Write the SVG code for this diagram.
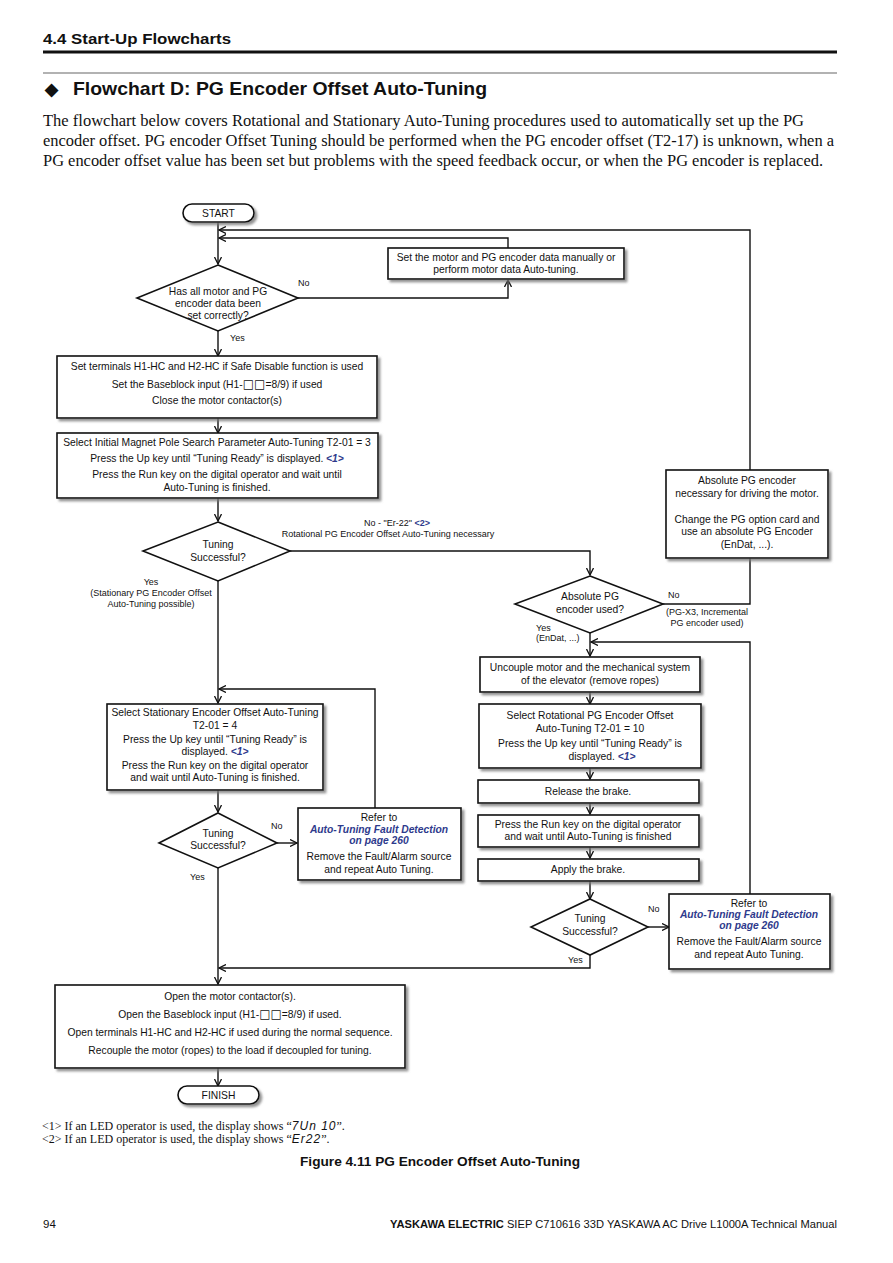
<svg xmlns="http://www.w3.org/2000/svg" width="893" height="1263" viewBox="0 0 893 1263">
<style>
text{font-family:"Liberation Sans",Arial,sans-serif;fill:#111}
.t{font-size:10.3px;text-anchor:middle}
.tl{font-size:10.3px}
.s{font-size:9px}
.bx{fill:#fff;stroke:#111;stroke-width:1.6;filter:url(#sh)}
.dm{fill:#fff;stroke:#111;stroke-width:1.6}
.c{fill:none;stroke:#111;stroke-width:1.4}
.ca{fill:none;stroke:#111;stroke-width:1.4;marker-end:url(#ar)}
.bl{fill:#2e3a8c;font-weight:bold;font-style:italic}
.sq{font-family:"DejaVu Sans",sans-serif;font-size:12px}
.serif{font-family:"Liberation Serif","Times New Roman",serif}
</style>
<defs>
<filter id="sh" x="-10%" y="-10%" width="130%" height="140%">
<feDropShadow dx="2.5" dy="2.5" stdDeviation="0.8" flood-color="#777" flood-opacity="0.8"/>
</filter>
<marker id="ar" markerWidth="8" markerHeight="8" refX="7" refY="4" orient="auto" markerUnits="userSpaceOnUse">
<path d="M0,0.5 L7,4 L0,7.5" fill="none" stroke="#111" stroke-width="1.3"/>
</marker>
</defs>
<rect width="893" height="1263" fill="#fff"/>
<g id="header">
<text x="43" y="44" font-size="15" font-weight="bold" textLength="188" lengthAdjust="spacingAndGlyphs">4.4  Start-Up Flowcharts</text>
<rect x="43" y="50.5" width="794" height="3" fill="#111"/>
<rect x="43" y="72.5" width="794" height="1" fill="#666"/>
<text x="45" y="95" font-size="17" font-weight="bold">◆</text>
<text x="73" y="95" font-size="19" font-weight="bold" textLength="414" lengthAdjust="spacingAndGlyphs">Flowchart D: PG Encoder Offset Auto-Tuning</text>
<text class="serif" x="43" y="126" font-size="16" textLength="761" lengthAdjust="spacingAndGlyphs">The flowchart below covers Rotational and Stationary Auto-Tuning procedures used to automatically set up the PG</text>
<text class="serif" x="43" y="146" font-size="16" textLength="791" lengthAdjust="spacingAndGlyphs">encoder offset. PG encoder Offset Tuning should be performed when the PG encoder offset (T2-17) is unknown, when a</text>
<text class="serif" x="43" y="166" font-size="16" textLength="780" lengthAdjust="spacingAndGlyphs">PG encoder offset value has been set but problems with the speed feedback occur, or when the PG encoder is replaced.</text>
</g>
<g id="connectors">
<path class="ca" d="M218,222 V264"/>
<path class="ca" d="M750,470 V230 H219"/>
<path class="ca" d="M508,248 V238 H219"/>
<path class="ca" d="M298,298 H508 V280"/>
<path class="ca" d="M218,331 V356"/>
<path class="ca" d="M218,418 V433"/>
<path class="ca" d="M218,498 V521"/>
<path class="ca" d="M290,551 H590 V575"/>
<path class="ca" d="M218,581 V703"/>
<path class="ca" d="M375,808 V689 H219"/>
<path class="ca" d="M218,790 V812"/>
<path class="ca" d="M277,843 H297"/>
<path class="ca" d="M218,868 V984"/>
<path class="c" d="M663,604 H750 V558"/>
<path class="ca" d="M590,633 V656"/>
<path class="ca" d="M750,894 V642 H591"/>
<path class="ca" d="M590,692 V704"/>
<path class="ca" d="M590,768 V779"/>
<path class="ca" d="M590,803 V814"/>
<path class="ca" d="M590,847 V858"/>
<path class="ca" d="M590,881 V899"/>
<path class="ca" d="M648,927 H669"/>
<path class="ca" d="M590,955 V968 H219"/>
<path class="ca" d="M218,1068 V1086"/>
</g>
<g id="start">
<rect class="bx" x="183" y="204" width="71" height="18" rx="9"/>
<text class="t" x="218.5" y="217">START</text>
</g>
<g id="set-motor-data">
<rect class="bx" x="388" y="248" width="236" height="31"/>
<text class="t" x="506" y="261">Set the motor and PG encoder data manually or</text>
<text class="t" x="506" y="273">perform motor data Auto-tuning.</text>
</g>
<g id="d-data-set">
<polygon class="dm" points="218,265 298,298 218,331 137,298"/>
<text class="t" x="218" y="295">Has all motor and PG</text>
<text class="t" x="218" y="307">encoder  data been</text>
<text class="t" x="218" y="319">set correctly?</text>
<text class="s" x="298" y="286">No</text>
<text class="s" x="230" y="341">Yes</text>
</g>
<g id="set-terminals">
<rect class="bx" x="57" y="356" width="320" height="62"/>
<text class="t" x="217" y="370">Set terminals H1-HC and H2-HC if Safe Disable function is used</text>
<text class="t" x="217" y="388">Set the Baseblock input (H1-<tspan class="sq">□□</tspan>=8/9) if used</text>
<text class="t" x="217" y="404">Close the motor contactor(s)</text>
</g>
<g id="select-initial">
<rect class="bx" x="57" y="433" width="321" height="65"/>
<text class="t" x="217" y="446">Select Initial Magnet Pole Search Parameter Auto-Tuning T2-01 = 3</text>
<text class="t" x="217" y="462">Press the Up key until “Tuning Ready” is displayed. <tspan class="bl">&lt;1&gt;</tspan></text>
<text class="t" x="217" y="478">Press the Run key on the digital operator and wait until</text>
<text class="t" x="217" y="491">Auto-Tuning is finished.</text>
</g>
<g id="d-tuning-1">
<polygon class="dm" points="218,522 290,551 218,581 143,551"/>
<text class="t" x="218" y="548">Tuning</text>
<text class="t" x="218" y="561">Successful?</text>
<text class="t s" x="397" y="526">No - "Er-22" <tspan fill="#2e3a8c" font-weight="bold">&lt;2&gt;</tspan></text>
<text class="t s" x="388" y="537">Rotational PG Encoder Offset Auto-Tuning necessary</text>
<text class="t s" x="151" y="585">Yes</text>
<text class="t s" x="151" y="596">(Stationary PG Encoder Offset</text>
<text class="t s" x="151" y="607">Auto-Tuning possible)</text>
</g>
<g id="absolute-needed">
<rect class="bx" x="666" y="470" width="162" height="88"/>
<text class="t" x="747" y="484">Absolute PG encoder</text>
<text class="t" x="747" y="497">necessary for driving the motor.</text>
<text class="t" x="747" y="523">Change the PG option card and</text>
<text class="t" x="747" y="535">use an absolute PG Encoder</text>
<text class="t" x="747" y="548">(EnDat, ...).</text>
</g>
<g id="d-absolute">
<polygon class="dm" points="590,576 663,604 590,633 515,604"/>
<text class="t" x="590" y="600">Absolute PG</text>
<text class="t" x="590" y="613">encoder used?</text>
<text class="s" x="668" y="598">No</text>
<text class="t s" x="707" y="615">(PG-X3, Incremental</text>
<text class="t s" x="707" y="626">PG encoder used)</text>
<text class="s" x="536" y="631">Yes</text>
<text class="s" x="536" y="641">(EnDat, ...)</text>
</g>
<g id="uncouple">
<rect class="bx" x="480" y="657" width="220" height="35"/>
<text class="t" x="590" y="671">Uncouple motor and the mechanical system</text>
<text class="t" x="590" y="684">of the elevator (remove ropes)</text>
</g>
<g id="select-rotational">
<rect class="bx" x="479" y="704" width="222" height="64"/>
<text class="t" x="590" y="719">Select Rotational PG Encoder Offset</text>
<text class="t" x="590" y="732">Auto-Tuning T2-01 = 10</text>
<text class="t" x="590" y="747">Press the Up key until “Tuning Ready” is</text>
<text class="t" x="602" y="760">displayed. <tspan class="bl">&lt;1&gt;</tspan></text>
</g>
<g id="release-brake">
<rect class="bx" x="478" y="780" width="221" height="23"/>
<text class="t" x="588" y="795">Release the brake.</text>
</g>
<g id="press-run">
<rect class="bx" x="478" y="815" width="221" height="32"/>
<text class="t" x="588" y="828">Press the Run key on the digital operator</text>
<text class="t" x="588" y="840">and wait until Auto-Tuning is finished</text>
</g>
<g id="apply-brake">
<rect class="bx" x="478" y="859" width="221" height="22"/>
<text class="t" x="588" y="873">Apply the brake.</text>
</g>
<g id="d-tuning-r">
<polygon class="dm" points="590,899 648,927 590,955 531,927"/>
<text class="t" x="590" y="922">Tuning</text>
<text class="t" x="590" y="935">Successful?</text>
<text class="s" x="648" y="912">No</text>
<text class="s" x="568" y="963">Yes</text>
</g>
<g id="refer-r">
<rect class="bx" x="669" y="894" width="161" height="75"/>
<text class="t" x="749" y="907">Refer to</text>
<text class="t bl" x="749" y="918">Auto-Tuning Fault Detection</text>
<text class="t bl" x="749" y="929">on page 260</text>
<text class="t" x="749" y="945">Remove the Fault/Alarm source</text>
<text class="t" x="749" y="958">and repeat Auto Tuning.</text>
</g>
<g id="select-stationary">
<rect class="bx" x="107" y="704" width="216" height="86"/>
<text class="t" x="215" y="716">Select Stationary Encoder Offset Auto-Tuning</text>
<text class="t" x="215" y="729">T2-01 = 4</text>
<text class="t" x="215" y="743">Press the Up key until “Tuning Ready” is</text>
<text class="t" x="215" y="755">displayed. <tspan class="bl">&lt;1&gt;</tspan></text>
<text class="t" x="215" y="769">Press the Run key on the digital operator</text>
<text class="t" x="215" y="781">and wait until Auto-Tuning is finished.</text>
</g>
<g id="d-tuning-l">
<polygon class="dm" points="218,813 277,843 218,868 159,843"/>
<text class="t" x="218" y="837">Tuning</text>
<text class="t" x="218" y="849">Successful?</text>
<text class="s" x="271" y="829">No</text>
<text class="s" x="190" y="880">Yes</text>
</g>
<g id="refer-l">
<rect class="bx" x="298" y="808" width="163" height="72"/>
<text class="t" x="379" y="821">Refer to</text>
<text class="t bl" x="379" y="833">Auto-Tuning Fault Detection</text>
<text class="t bl" x="379" y="844">on page 260</text>
<text class="t" x="379" y="860">Remove the Fault/Alarm source</text>
<text class="t" x="379" y="873">and repeat Auto Tuning.</text>
</g>
<g id="open-contactor">
<rect class="bx" x="55" y="985" width="350" height="83"/>
<text class="t" x="230" y="1000">Open the motor contactor(s).</text>
<text class="t" x="230" y="1018">Open the Baseblock input (H1-<tspan class="sq">□□</tspan>=8/9) if used.</text>
<text class="t" x="230" y="1036">Open terminals H1-HC and H2-HC if used during the normal sequence.</text>
<text class="t" x="230" y="1054">Recouple the motor (ropes) to the load if decoupled for tuning.</text>
</g>
<g id="finish">
<rect class="bx" x="178" y="1086" width="81" height="18" rx="9"/>
<text class="t" x="218.5" y="1099">FINISH</text>
</g>
<g id="notes">
<text class="serif" x="42" y="1130" font-size="12">&lt;1&gt; If an LED operator is used, the display shows “<tspan font-family="Liberation Sans,Arial,sans-serif" font-style="italic" letter-spacing="1">7Un 10</tspan>”.</text>
<text class="serif" x="42" y="1143" font-size="12">&lt;2&gt; If an LED operator is used, the display shows “<tspan font-family="Liberation Sans,Arial,sans-serif" font-style="italic" letter-spacing="1">Er22</tspan>”.</text>
<text x="300" y="1166" font-size="13.5" font-weight="bold" textLength="280" lengthAdjust="spacingAndGlyphs">Figure 4.11  PG Encoder Offset Auto-Tuning</text>
<text x="43" y="1228" font-size="11.5">94</text>
<text x="390" y="1228" font-size="11.5" textLength="447" lengthAdjust="spacingAndGlyphs"><tspan font-weight="bold">YASKAWA ELECTRIC</tspan> SIEP C710616 33D YASKAWA AC Drive L1000A Technical Manual</text>
</g>
</svg>
